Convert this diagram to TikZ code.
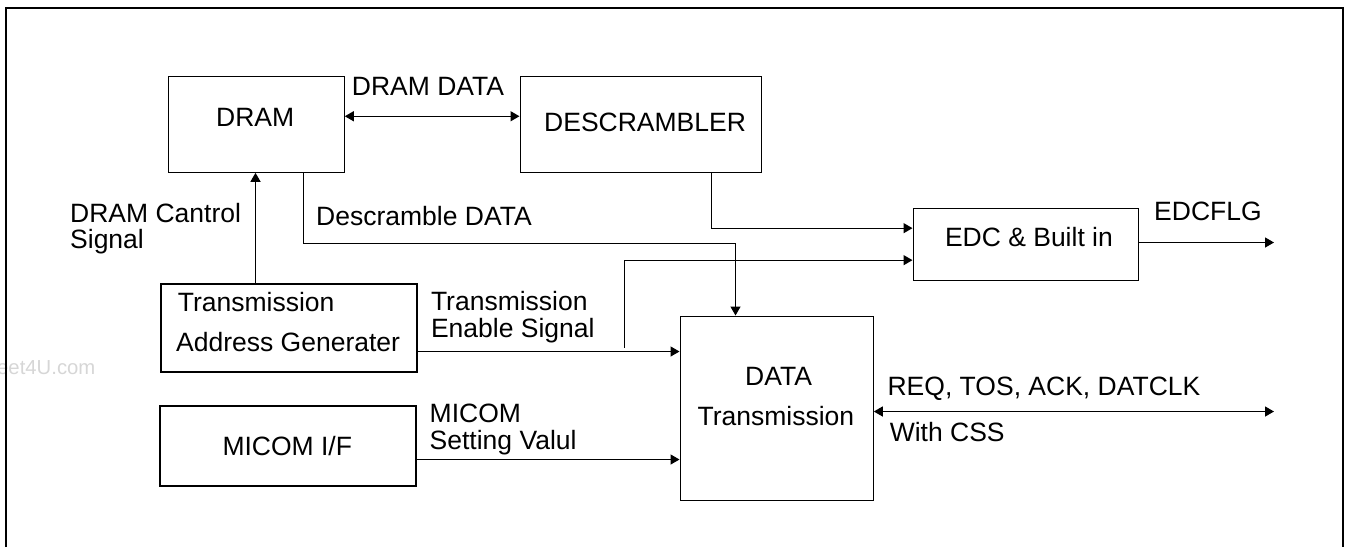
\documentclass[tikz,border=0pt]{standalone}
\usepackage{fontspec}
\setmainfont{Liberation Sans}
\usetikzlibrary{arrows.meta}
\tikzset{
  x=1pt,y=-1pt,
  box/.style={draw=black,line width=1.3pt,fill=none,inner sep=0pt,anchor=north west},
  thickbox/.style={box,line width=2.2pt},
  lbl/.style={anchor=base west,inner sep=0pt,font=\fontsize{26.5}{30}\selectfont},
  wire/.style={draw=black,line width=1.3pt},
  one/.style={wire,-{Triangle[length=9pt,width=10pt]}},
  two/.style={wire,{Triangle[length=9pt,width=10pt]}-{Triangle[length=9pt,width=10pt]}},
}
\begin{document}
\begin{tikzpicture}
\useasboundingbox (0,0) rectangle (1348,547);
% watermark
\begin{scope}
\clip (0,340) rectangle (110,390);
\node[lbl,text=black!16,font=\fontsize{20.3}{24}\selectfont] (wm) at (-3,374) {eet4U.com};
\end{scope}
% frame
\coordinate (fbl) at (6,547);
\coordinate (ftl) at (6,8);
\coordinate (ftr) at (1343,8);
\coordinate (fbr) at (1343,547);
\draw[line width=2.2pt] (fbl) -- (ftl) -- (ftr) -- (fbr);
% boxes
\node[box,minimum width=176pt,minimum height=96pt] (dram) at (167.5,75.5) {};
\node[box,minimum width=241pt,minimum height=96pt] (descr) at (519.5,75.5) {};
\node[box,minimum width=225pt,minimum height=72pt] (edc) at (912.5,207.5) {};
\node[thickbox,minimum width=256pt,minimum height=88pt] (tag) at (160,283) {};
\node[thickbox,minimum width=256.5pt,minimum height=80pt] (mif) at (158.5,405) {};
\node[box,minimum width=193pt,minimum height=184pt] (dt) at (679.5,315.5) {};
% free ends
\coordinate (stub) at (624.5,347.7);
\coordinate (eo) at (1274,242.5);
\coordinate (ro) at (1274,411.5);
\coordinate (up) at (255.5,0);
\coordinate (dsx) at (303.5,0);
\coordinate (dtx) at (735.5,0);
\coordinate (dcx) at (711.5,0);
\coordinate (dsb) at (0,243.5);
\coordinate (tey) at (0,351.5);
\coordinate (miy) at (0,459.5);
% connectors
\draw[two] ([yshift=7.9pt]dram.east) -- ([yshift=7.9pt]descr.west);
\draw[one] (tag.north -| up) -- (dram.south -| up);
\draw[one] (dram.south -| dsx) |- (dsb -| dtx) -- (dt.north -| dtx);
\draw[one] (descr.south -| dcx) |- ([yshift=16pt]edc.west);
\draw[one] (stub) |- ([yshift=-16pt]edc.west);
\draw[one] (edc.east |- eo) -- (eo);
\draw[one] (tag.east |- tey) -- (dt.west |- tey);
\draw[one] (mif.east |- miy) -- (dt.west |- miy);
\draw[two] (dt.east |- ro) -- (ro);
% labels
\node[lbl] (t1) at (216,126.7) {DRAM};
\node[lbl] (t2) at (351.7,95) {DRAM DATA};
\node[lbl] (t3) at (544,131.7) {DESCRAMBLER};
\node[lbl] (t4) at (70,222.7) {DRAM Cantrol};
\node[lbl] (t5) at (70,248.3) {Signal};
\node[lbl] (t6) at (316,225.7) {Descramble DATA};
\node[lbl] (t7) at (177.7,311.7) {Transmission};
\node[lbl] (t8) at (176,351.7) {Address Generater};
\node[lbl] (t9) at (430.8,310.7) {Transmission};
\node[lbl] (t10) at (430.8,337.7) {Enable Signal};
\node[lbl] (t11) at (429.5,422.7) {MICOM};
\node[lbl] (t12) at (429.5,449) {Setting Valul};
\node[lbl] (t13) at (222.3,455) {MICOM I/F};
\node[lbl] (t14) at (944.8,246.7) {EDC \& Built in};
\node[lbl] (t15) at (1154,220.7) {EDCFLG};
\node[lbl] (t16) at (745,385.3) {DATA};
\node[lbl] (t17) at (697.4,425.3) {Transmission};
\node[lbl] (t18) at (887.4,395.7) {REQ, TOS, ACK, DATCLK};
\node[lbl] (t19) at (889.6,441) {With CSS};
\end{tikzpicture}
\end{document}
